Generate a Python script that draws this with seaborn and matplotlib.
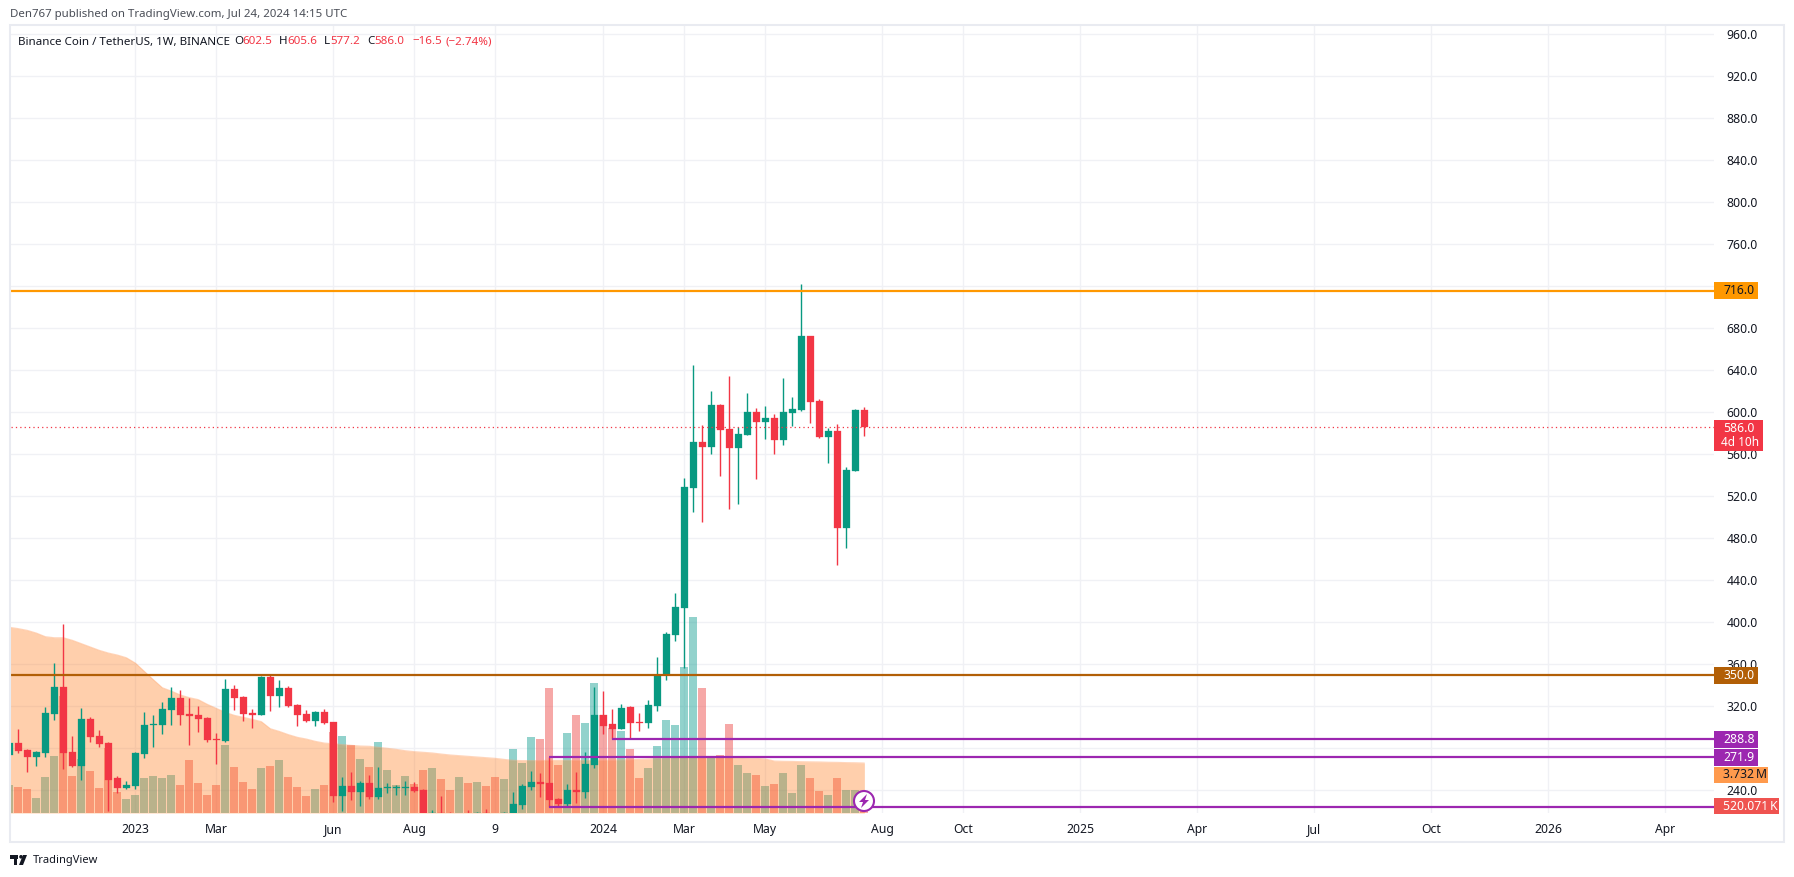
import matplotlib
matplotlib.use("Agg")
import matplotlib.pyplot as plt
from matplotlib.patches import Rectangle, Circle, Polygon
import numpy as np
import pandas as pd
import seaborn as sns

# weekly candles
opens = [
    273.6, 285.1, 278.4, 271.8, 275.6, 312.7, 338.4, 276.5, 263.2, 308.0,
    291.8, 285.1, 251.8, 242.2, 244.1, 274.6, 302.2, 302.2, 316.5, 328.0,
    312.7, 311.8, 308.9, 288.9, 287.0, 336.5, 328.9, 313.7, 311.8, 348.0,
    329.9, 337.5, 321.3, 312.7, 306.0, 314.6, 305.1, 234.6, 244.1, 238.4,
    247.0, 233.7, 242.2, 242.5, 242.5, 243.2, 240.3, 205.0, 218.4, 217.8,
    208.0, 215.0, 214.0, 218.4, 214.0, 210.0, 214.0, 226.0, 243.2, 247.9,
    247.0, 231.8, 227.0, 240.3, 238.4, 264.1, 311.8, 303.2, 298.4, 319.4,
    305.1, 304.1, 320.3, 350.8, 388.0, 413.7, 528.0, 571.8, 567.0, 607.0,
    584.2, 566.0, 578.5, 600.4, 590.8, 594.7, 573.8, 599.5, 602.3, 673.0,
    610.9, 576.6, 582.3, 489.9, 544.2, 602.5,
]
closes = [
    285.1, 277.5, 271.8, 276.5, 313.7, 338.4, 275.6, 263.2, 308.0, 290.8,
    284.1, 249.9, 242.2, 245.1, 275.6, 302.2, 303.2, 317.5, 328.0, 311.8,
    310.8, 308.0, 287.9, 287.9, 336.5, 328.0, 312.7, 311.8, 348.0, 329.9,
    337.5, 320.3, 311.8, 306.0, 314.6, 304.1, 234.6, 244.1, 238.4, 247.0,
    233.7, 242.2, 243.2, 243.2, 243.2, 239.4, 212.0, 218.4, 210.0, 210.0,
    212.0, 210.0, 218.4, 214.0, 210.0, 218.4, 227.0, 244.1, 247.9, 246.0,
    230.8, 227.0, 240.3, 238.4, 265.1, 311.8, 301.3, 298.4, 318.4, 304.1,
    304.5, 321.3, 349.5, 388.9, 414.6, 529.0, 571.8, 567.0, 607.0, 583.2,
    566.0, 579.4, 600.4, 590.8, 594.7, 573.7, 600.4, 603.3, 673.0, 610.0,
    576.6, 582.3, 489.9, 545.2, 602.3, 586.0,
]
highs = [
    285.5, 298.4, 279.4, 277.5, 319.4, 361.3, 398.4, 291.8, 318.4, 309.9,
    297.5, 286.0, 253.7, 248.9, 276.5, 314.6, 311.8, 324.1, 338.4, 335.6,
    328.0, 320.3, 309.9, 294.6, 346.0, 340.3, 329.9, 317.5, 348.9, 349.9,
    345.1, 339.4, 322.2, 316.5, 315.6, 317.5, 305.1, 252.7, 257.5, 248.9,
    254.6, 262.2, 247.0, 245.1, 248.9, 248.0, 241.3, 221.3, 234.6, 219.4,
    214.0, 221.3, 219.4, 222.2, 217.0, 219.4, 238.4, 246.0, 258.4, 256.5,
    271.8, 232.7, 246.0, 257.5, 276.5, 338.4, 334.6, 317.5, 322.2, 320.3,
    313.7, 326.0, 367.0, 390.8, 428.0, 537.5, 645.1, 588.0, 620.4, 608.0,
    634.7, 586.0, 618.5, 604.2, 606.0, 598.5, 633.0, 614.7, 722.0, 673.0,
    612.8, 585.2, 589.0, 548.0, 603.3, 605.6,
]
lows = [
    273.0, 275.6, 257.5, 263.2, 271.8, 307.0, 260.3, 262.2, 249.9, 286.0,
    281.3, 220.3, 237.5, 241.3, 241.3, 270.8, 281.3, 293.7, 302.2, 302.2,
    283.2, 295.6, 286.0, 265.1, 286.0, 316.5, 306.0, 299.4, 311.8, 315.6,
    319.4, 319.4, 301.3, 305.0, 301.3, 303.2, 228.9, 220.3, 230.8, 225.1,
    231.8, 231.8, 237.5, 235.6, 235.6, 238.4, 205.0, 200.0, 200.0, 205.0,
    205.0, 205.0, 205.0, 208.0, 205.0, 205.0, 210.0, 222.2, 240.3, 233.7,
    224.1, 224.1, 225.1, 227.9, 232.7, 261.3, 293.7, 288.9, 298.4, 289.9,
    296.5, 299.4, 315.6, 345.1, 382.2, 356.5, 505.0, 496.0, 560.4, 539.4,
    508.0, 512.7, 578.5, 536.6, 574.6, 560.4, 569.0, 587.1, 601.4, 590.0,
    575.7, 551.8, 454.7, 470.9, 544.2, 577.2,
]

# volume in millions and its moving average (the orange area)
volumes = [
    2.11, 1.97, 1.82, 1.14, 2.71, 4.28, 8.76, 2.79, 4.05, 3.16,
    1.89, 4.88, 1.59, 1.07, 1.37, 2.64, 2.79, 2.64, 2.86, 2.11,
    3.98, 2.26, 1.37, 2.11, 5.10, 3.46, 2.34, 1.82, 3.38, 3.53,
    3.98, 2.71, 1.97, 1.29, 1.82, 2.11, 6.07, 5.77, 5.05, 4.05,
    3.46, 5.32, 3.23, 2.11, 2.79, 2.19, 3.23, 3.38, 2.56, 1.74,
    2.71, 2.26, 2.34, 2.04, 2.71, 2.56, 4.80, 3.76, 5.70, 5.55,
    9.35, 3.61, 6.00, 7.34, 6.74, 9.73, 7.34, 6.37, 6.14, 4.80,
    2.64, 3.38, 5.02, 6.97, 6.59, 10.92, 14.65, 9.35, 4.20, 4.35,
    6.67, 3.61, 3.01, 2.86, 2.04, 2.19, 3.01, 1.52, 3.61, 2.64,
    1.67, 1.37, 2.64, 1.74, 1.74, 0.52,
]
volume_ma = [
    13.86, 13.76, 13.63, 13.43, 13.16, 13.08, 13.08, 12.89, 12.64, 12.39,
    12.14, 11.94, 11.79, 11.59, 11.19, 10.57, 9.95, 9.35, 9.10, 8.81,
    8.61, 8.46, 8.11, 7.81, 7.51, 7.29, 7.14, 6.99, 6.82, 6.29,
    6.09, 5.85, 5.65, 5.52, 5.35, 5.22, 5.17, 5.10, 5.05, 5.00,
    4.98, 4.90, 4.83, 4.75, 4.65, 4.58, 4.53, 4.48, 4.40, 4.33,
    4.28, 4.23, 4.18, 4.13, 4.08, 4.00, 3.93, 3.91, 3.91, 3.91,
    3.93, 3.93, 3.93, 3.93, 3.93, 3.93, 3.95, 3.95, 3.97, 3.98,
    4.00, 4.03, 4.07, 4.11, 4.15, 4.20, 4.22, 4.22, 4.22, 4.22,
    4.20, 4.15, 4.12, 4.08, 4.03, 3.88, 3.86, 3.85, 3.83, 3.82,
    3.81, 3.79, 3.78, 3.76, 3.75, 3.73,
]

x_tick_weeks = [14, 23, 36, 45, 54, 66, 75, 84, 97, 106, 119, 132, 145, 158, 171, 184]
x_tick_labels = ["2023", "Mar", "Jun", "Aug", "9", "2024", "Mar", "May",
                 "Aug", "Oct", "2025", "Apr", "Jul", "Oct", "2026", "Apr"]
price_ticks = list(range(240, 1000, 40))
# these two sit fully behind the badges in the reference
hidden_ticks = [280, 720]

level_values = [716.0, 350.0, 288.8, 271.9, 224.1]
level_starts = [0, 0, 67, 60, 60]
level_colors = ["#ff9800", "#b25f06", "#9c27b0", "#9c27b0", "#9c27b0"]

UP = "#089981"
DOWN = "#f23645"
TEXT = "#131722"
GRID = "#f0f1f5"

W, H = 1794, 877
sns.set_theme(style="white")
plt.rcParams["font.family"] = ["Noto Sans", "DejaVu Sans"]

df = pd.DataFrame({"week": np.arange(len(opens)), "open": opens, "high": highs,
                   "low": lows, "close": closes, "volume": volumes, "ma": volume_ma})
df["dir"] = np.where(df["close"] >= df["open"], "up", "down")

fig = plt.figure(figsize=(W / 100, H / 100), dpi=100, facecolor="white")
rect = [10.5 / W, (H - 813) / H, (1714 - 10.5) / W, (813 - 25) / H]

# grid and price axis at the back
ax = fig.add_axes(rect)
ax.set_xlim(0.13, 189.4)
ax.set_ylim(218.5, 969)
ax.set_xticks(x_tick_weeks, x_tick_labels)
ax.set_yticks(price_ticks, ["" if p in hidden_ticks else f"{p:.1f}" for p in price_ticks])
ax.yaxis.tick_right()
ax.tick_params(axis="both", length=0, labelsize=8.8, labelcolor=TEXT)
ax.tick_params(axis="x", pad=7)
ax.tick_params(axis="y", pad=9)
ax.grid(True, color=GRID, linewidth=1.0)
sns.despine(ax=ax, left=True, right=True, top=True, bottom=True)

# volume bars and MA area
ax_vol = fig.add_axes(rect, sharex=ax)
ax_vol.patch.set_visible(False)
sns.barplot(data=df, x="week", y="volume", hue="dir", dodge=False, native_scale=True,
            palette={"up": "#26a69a", "down": "#ef5350"}, alpha=0.5, width=0.89,
            saturation=1, legend=False, linewidth=0, ax=ax_vol)
ax_vol.fill_between(df["week"], 0, df["ma"], color="#ff7a1a", alpha=0.36, linewidth=0)
sns.lineplot(data=df, x="week", y="ma", color="#ff9a5a", alpha=0.4, linewidth=0.8, ax=ax_vol)
ax_vol.set_xlim(0.13, 189.4)
ax_vol.set_ylim(0, (813 - 25) / 13.4)
ax_vol.axis("off")

# candles and drawn levels on top
ax_c = fig.add_axes(rect, sharex=ax, sharey=ax)
ax_c.patch.set_visible(False)
colors = df["dir"].map({"up": UP, "down": DOWN})
ax_c.vlines(df["week"], df["low"], df["high"], colors=colors, linewidth=1.0)
ax_c.bar(df["week"], (df["close"] - df["open"]).abs(), bottom=df[["open", "close"]].min(axis=1),
         width=0.78, color=colors, linewidth=0.2, edgecolor=colors)
ax_c.axhline(closes[-1], color=DOWN, linewidth=0.9, linestyle=(0, (1, 2.5)))
for val, start, col in zip(level_values, level_starts, level_colors):
    ax_c.hlines(val, start, 189.4, color=col, linewidth=1.6, zorder=5)
ax_c.axis("off")

# overlay in pixels for the page furniture
ov = fig.add_axes([0, 0, 1, 1], zorder=10)
ov.set_xlim(0, W)
ov.set_ylim(H, 0)
ov.axis("off")
ov.patch.set_visible(False)

ov.add_patch(Rectangle((10, 25), 1774, 817, fill=False, edgecolor="#e9ebf1", linewidth=1.5))
ov.text(10, 14, "Den767 published on TradingView.com, Jul 24, 2024 14:15 UTC",
        fontsize=8.25, color="#4a4e57", va="center")

ov.text(18, 42, "Binance Coin / TetherUS, 1W, BINANCE", fontsize=8.35, color=TEXT, va="center")
for x, s, c in [(234, "O", TEXT), (242, "602.5", DOWN), (279, "H", TEXT), (287, "605.6", DOWN),
                (324, "L", TEXT), (330, "577.2", DOWN), (367, "C", TEXT), (374, "586.0", DOWN),
                (412, "\u221216.5", DOWN), (445, "(\u22122.74%)", DOWN)]:
    ov.text(x, 42, s, fontsize=8.35, color=c, va="center")

# right side badges: text, colour, top, bottom, right edge, text colour
badges = [
    ("716.0", "#ff9800", 282, 299, 1758, TEXT),
    ("350.0", "#b25f06", 667, 684, 1758, "white"),
    ("288.8", "#9c27b0", 731, 748, 1758, "white"),
    ("271.9", "#9c27b0", 749, 766, 1758, "white"),
    ("3.732\u2009M", "#ff9a4d", 767, 783, 1768, TEXT),
    ("520.071\u2009K", "#ef5350", 798, 814, 1779, "white"),
]
for label, col, top, bot, right, tc in badges:
    ov.add_patch(Rectangle((1714, top), right - 1714, bot - top, color=col, linewidth=0))
    ov.text(1723, (top + bot) / 2, label, fontsize=8.8, color=tc, va="center",
            fontweight="bold" if tc == "white" else "normal")
ov.add_patch(Rectangle((1714, 420), 49, 31, color=DOWN, linewidth=0))
ov.text(1723, 428, "586.0", fontsize=8.8, color="white", va="center", fontweight="bold")
ov.text(1721, 443, "4d 10h", fontsize=8.5, color="white", va="center")

# lightning marker on the last bar
ov.add_patch(Circle((864, 801), 10, facecolor="white", edgecolor="#9c27b0", linewidth=1.5))
ov.add_patch(Polygon([(867, 794), (859, 802), (863, 802), (861, 808), (869, 800), (865, 800)],
                     color="#9c27b0", linewidth=0))

# TradingView logo
ov.add_patch(Rectangle((10, 855), 8, 3.5, color=TEXT, linewidth=0))
ov.add_patch(Rectangle((13.5, 855), 3.5, 10, color=TEXT, linewidth=0))
ov.add_patch(Circle((21, 856.8), 1.8, color=TEXT, linewidth=0))
ov.add_patch(Polygon([(19, 865), (23, 855), (27, 855), (23, 865)], color=TEXT, linewidth=0))
ov.text(33, 860, "TradingView", fontsize=8, color=TEXT, va="center", fontweight="semibold")

fig.savefig("out.png", dpi=100)
